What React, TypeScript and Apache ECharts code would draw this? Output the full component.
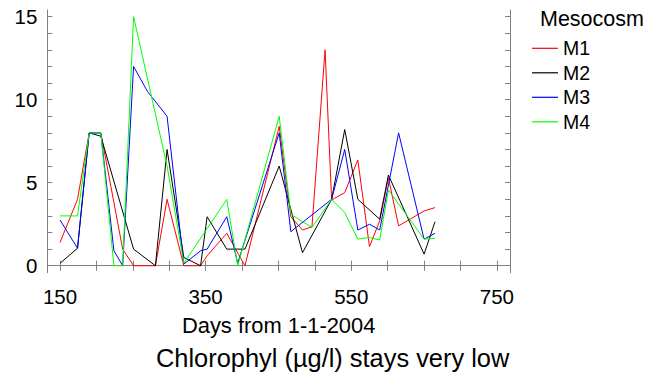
import React, { useEffect, useRef } from "react";
import * as echarts from "echarts";

const days = [150, 174, 190, 206, 224, 236, 251, 270, 281, 297, 320, 343, 352, 379, 394, 404, 451, 467, 483, 496, 514, 523, 541, 559, 575, 589, 601, 615, 650, 665];
const m1 = [1.4, 4.0, 8.0, 8.0, null, 1.0, 0, null, 0, 4.0, 0, 0, 0.6, 1.95, null, 0, 8.4, 2.95, 2.15, 2.35, 13.0, 3.96, 4.4, 6.37, 1.15, 2.7, 5.3, 2.4, 3.3, 3.5];
const m2 = [0.15, 1.05, 8.0, 7.8, null, null, 1.0, null, 0, 7.0, 0.5, 0, 2.95, 1.0, null, 1.0, 6.0, null, 0.78, null, null, 4.0, 8.2, 4.0, null, 2.8, 5.46, null, 0.7, 2.65];
const m3 = [2.75, 1.05, 8.0, 8.0, 0.9, 0, 12.0, 10.5, null, 9.0, 0.1, 0.9, 1.0, 2.95, 0.15, null, 8.0, 2.05, null, null, null, 4.0, 7.0, 2.15, 2.5, 2.15, null, 8.0, 1.6, 1.95];
const m4 = [3.0, 3.0, 8.0, 8.0, 0, 0, 15.0, null, null, 6.0, 0.15, null, null, 4.0, 0, null, 9.0, 3.1, null, 2.3, null, 4.0, 3.2, 1.6, 1.7, 1.55, 4.56, null, 1.6, 1.65];

const seriesNames = ["M1", "M2", "M3", "M4"];
const seriesValues = [m1, m2, m3, m4];
const seriesColors = ["#ff0000", "#000000", "#0000ff", "#00ff00"];

const xTicks = [150, 200, 250, 300, 350, 400, 450, 500, 550, 600, 650, 700, 750];
const xLabels = [150, 350, 550, 750];
const yTicks = [0, 1, 2, 3, 4, 5, 6, 7, 8, 9, 10, 11, 12, 13, 14, 15];
const yLabels = [0, 5, 10, 15];

const FONT = "'Liberation Sans', Arial, sans-serif";
const BOX = "#808080";

export default function App() {
  const ref = useRef<HTMLDivElement>(null);
  useEffect(() => {
    if (!ref.current) return;
    const chart = echarts.init(ref.current, undefined, { renderer: "svg" });
    const xBase = {
      type: "value" as const,
      min: 132.5,
      max: 768,
      splitLine: { show: false },
      axisLine: { show: true, lineStyle: { color: BOX, width: 1 } },
      axisTick: { show: true, inside: true, length: 5, customValues: xTicks, lineStyle: { color: BOX } },
    };
    const yBase = {
      type: "value" as const,
      min: -0.42,
      max: 15.4,
      splitLine: { show: false },
      axisLine: { show: true, lineStyle: { color: BOX, width: 1 } },
      axisTick: { show: true, inside: true, length: 5, customValues: yTicks, lineStyle: { color: BOX } },
    };
    chart.setOption({
      animation: false,
      backgroundColor: "#ffffff",
      textStyle: { fontFamily: FONT },
      title: [
        {
          text: "Chlorophyl (µg/l) stays very low",
          left: 156,
          top: 345,
          padding: 0,
          textStyle: { fontFamily: FONT, fontSize: 25.4, lineHeight: 26, fontWeight: "normal", color: "#000" },
        },
        {
          text: "Mesocosm",
          left: 540,
          top: 8,
          padding: 0,
          textStyle: { fontFamily: FONT, fontSize: 21.5, lineHeight: 22, fontWeight: "normal", color: "#000" },
        },
      ],
      legend: {
        orient: "vertical",
        left: 527,
        top: 33.3,
        icon: "rect",
        itemWidth: 26,
        itemHeight: 1.2,
        itemGap: 4.5,
        data: seriesNames,
        textStyle: { fontFamily: FONT, fontSize: 19.5, lineHeight: 20, color: "#000" },
      },
      grid: { left: 47.3, right: 140, top: 10, bottom: 104.3, containLabel: false },
      xAxis: [
        {
          ...xBase,
          position: "bottom",
          name: "Days from 1-1-2004",
          nameLocation: "middle",
          nameGap: 42,
          nameTextStyle: { fontFamily: FONT, fontSize: 21.9, color: "#000" },
          axisLabel: { show: true, customValues: xLabels, margin: 13, fontFamily: FONT, fontSize: 20.5, color: "#000" },
        },
        { ...xBase, position: "top", axisLabel: { show: false } },
      ],
      yAxis: [
        {
          ...yBase,
          position: "left",
          axisLabel: { show: true, customValues: yLabels, margin: 10, fontFamily: FONT, fontSize: 20.5, color: "#000" },
        },
        { ...yBase, position: "right", axisLabel: { show: false } },
      ],
      series: seriesNames.map((name, i) => ({
        name,
        type: "line",
        xAxisIndex: 0,
        yAxisIndex: 0,
        data: days.map((d, j) => [d, seriesValues[i][j]]).filter((p) => p[1] !== null),
        connectNulls: true,
        symbol: "none",
        showSymbol: false,
        color: seriesColors[i],
        lineStyle: { color: seriesColors[i], width: 1 },
      })),
    });
    return () => chart.dispose();
  }, []);
  return <div ref={ref} style={{ position: "absolute", left: 0, top: 0, width: 650, height: 377 }} />;
}
